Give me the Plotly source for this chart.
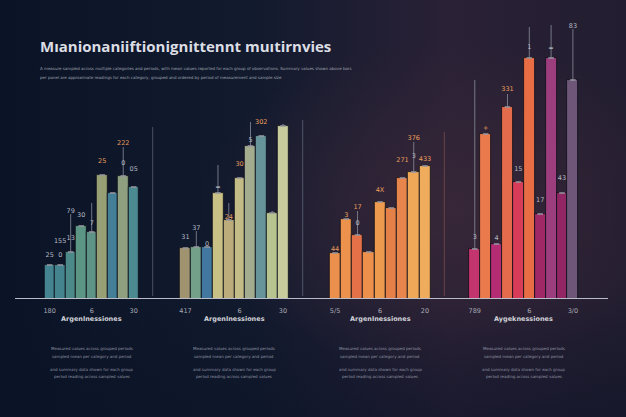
import base64
import plotly.graph_objects as go

# ---- data (heights in chart units above the baseline) ----
p1_cats = ["c1", "c2", "c3", "c4", "c5", "c6", "c7", "c8", "c9"]
p1_values = [34, 34, 47, 73, 67, 124, 106, 123, 112]
p1_labels = ["25", "155", "79", "30", "7", "25", "", "222", "05"]
p1_label_y = [44, 58, 88, 84, 76, 138, None, 156, 130]
p1_sub_labels = ["", "0", "13", "", "", "", "", "0", ""]
p1_sub_y = [None, 44, 61, None, None, None, None, 136, None]
p1_stem_top = [0, 0, 85, 0, 96, 0, 0, 152, 0]
p1_ticks = ["180", "6", "30"]

p2_cats = ["c1", "c2", "c3", "c4", "c5", "c6", "c7", "c8", "c9", "c10"]
p2_values = [51, 52, 52, 106, 79, 121, 153, 163, 86, 173]
p2_labels = ["31", "37", "0", "=", "24", "30", "5", "302", "-", "-"]
p2_label_y = [62, 71, 55, 112, 82, 135, 159, 177, 88, 175]
p2_sub_labels = ["", "", "", "", "", "", "", "", "", ""]
p2_sub_y = [None] * 10
p2_stem_top = [0, 68, 0, 134, 96, 0, 177, 0, 0, 0]
p2_ticks = ["417", "6", "30"]

p3_cats = ["c1", "c2", "c3", "c4", "c5", "c6", "c7", "c8", "c9"]
p3_values = [46, 80, 64, 47, 97, 91, 121, 127, 133]
p3_labels = ["44", "3", "17", "", "4X", "", "271", "376", "433"]
p3_label_y = [50, 84, 92, None, 109, None, 139, 161, 140]
p3_sub_labels = ["", "", "0", "", "", "", "", "3", ""]
p3_sub_y = [None, None, 76, None, None, None, None, 143, None]
p3_stem_top = [0, 0, 88, 0, 0, 0, 0, 157, 0]
p3_ticks = ["5/5", "6", "20"]

p4_cats = ["c1", "c2", "c3", "c4", "c5", "c6", "c7", "c8", "c9", "c10"]
p4_values = [50, 165, 55, 192, 117, 241, 85, 241, 106, 219]
p4_labels = ["3", "+", "4", "331", "15", "1", "17", "=", "43", "83"]
p4_label_y = [62, 171, 61, 210, 130, 252, 99, 251, 121, 273]
p4_sub_labels = ["", "", "", "", "", "", "", "", "", ""]
p4_sub_y = [None] * 10
p4_stem_top = [219, 0, 0, 205, 0, 272, 0, 274, 0, 270]
p4_ticks = ["789", "6", "3/0"]

title = "Mıanionaniiftionignittennt muıtirnvies"
subtitle = [
    "A measure sampled across multiple categories and periods, with mean values reported for each group of observations. "
    "Summary values shown above bars",
    "per panel are approximate readings for each category, grouped and ordered by period of measurement and sample size",
]
headings = ["Argenlnessiones", "Argenlnessiones", "Argenlnessiones", "Aygeknessiones"]
notes = [
    "Measured values across grouped periods",
    "sampled mean per category and period",
    "and summary data shown for each group",
    "period reading across sampled values",
]

# ---- styles ----
p1_colors = ["#438490", "#44848e", "#4c8a8a", "#5d9584", "#5e9486",
             "#97a075", "#437f96", "#8fa080", "#4a8a90"]
p2_colors = ["#a09470", "#72a088", "#4278a0", "#c8c084", "#bcac7c",
             "#c4bc86", "#a4ac90", "#66949a", "#b8c490", "#c8cc9c"]
p3_colors = ["#eb904c", "#ec924c", "#e47148", "#ec904c", "#ed9a4e",
             "#e48048", "#e7854c", "#eea858", "#efac5c"]
p4_colors = ["#c4356f", "#ea7a4c", "#b42c74", "#e46c4c", "#d83c58",
             "#e86c44", "#a02866", "#9c3e7e", "#922664", "#6e5678"]

ORANGE = "#eb9f5c"
GREY = "#b4bac4"
p1_label_colors = [GREY, GREY, GREY, GREY, GREY, ORANGE, GREY, ORANGE, GREY]
p2_label_colors = [GREY, GREY, GREY, GREY, ORANGE, ORANGE, GREY, ORANGE, GREY, GREY]
p3_label_colors = [ORANGE] * 9
p4_label_colors = [GREY, ORANGE, GREY, ORANGE, GREY, GREY, GREY, GREY, GREY, GREY]

domains = [[0.0666, 0.2264], [0.2823, 0.4660], [0.5219, 0.6922], [0.7444, 0.9292]]
tick_idx = [[0, 4, 8], [0, 5, 9], [0, 4, 8], [0, 5, 9]]

panels = [
    (p1_cats, p1_values, p1_labels, p1_label_y, p1_sub_labels, p1_sub_y, p1_stem_top, p1_ticks, p1_colors, p1_label_colors),
    (p2_cats, p2_values, p2_labels, p2_label_y, p2_sub_labels, p2_sub_y, p2_stem_top, p2_ticks, p2_colors, p2_label_colors),
    (p3_cats, p3_values, p3_labels, p3_label_y, p3_sub_labels, p3_sub_y, p3_stem_top, p3_ticks, p3_colors, p3_label_colors),
    (p4_cats, p4_values, p4_labels, p4_label_y, p4_sub_labels, p4_sub_y, p4_stem_top, p4_ticks, p4_colors, p4_label_colors),
]

W, H = 626, 417
BASE = 299  # pixel row of the baseline

fig = go.Figure()
layout_axes = {}

for i, (cats, vals, labs, laby, subs, suby, stems, ticks, cols, lcols) in enumerate(panels):
    xa = "x" if i == 0 else "x%d" % (i + 1)
    # bars
    fig.add_trace(go.Bar(
        x=cats, y=vals, xaxis=xa, yaxis="y",
        marker=dict(color=cols, line=dict(color="#0c0f18", width=0.8)),
        hoverinfo="skip",
    ))
    # stems from the bar tops
    stem_len = [max(s - v, 0) for s, v in zip(stems, vals)]
    fig.add_trace(go.Scatter(
        x=cats, y=vals, xaxis=xa, yaxis="y", mode="markers",
        marker=dict(symbol="line-ew", size=4, line=dict(color="#9a9aa4", width=1.5)),
        error_y=dict(type="data", symmetric=False, array=stem_len,
                     arrayminus=[0] * len(vals), color="#8a8e9a", thickness=0.8, width=0),
        hoverinfo="skip",
    ))
    # value labels
    fig.add_trace(go.Scatter(
        x=cats, y=laby, xaxis=xa, yaxis="y", mode="text", text=labs,
        textfont=dict(family="DejaVu Sans", size=6.5, color=lcols),
        hoverinfo="skip",
    ))
    fig.add_trace(go.Scatter(
        x=cats, y=suby, xaxis=xa, yaxis="y", mode="text", text=subs,
        textfont=dict(family="DejaVu Sans", size=6.5, color=GREY),
        hoverinfo="skip",
    ))
    key = "xaxis" if i == 0 else "xaxis%d" % (i + 1)
    layout_axes[key] = dict(
        domain=domains[i], anchor="y", type="category",
        tickvals=[cats[k] for k in tick_idx[i]], ticktext=ticks,
        tickfont=dict(family="DejaVu Sans", size=6.5, color="#a8abb4"),
        ticks="outside", ticklen=5, tickcolor="rgba(0,0,0,0)",
        showgrid=False, zeroline=False, showline=False,
    )

    # heading + small note lines under each panel
    fig.add_annotation(
        text="<b>" + headings[i] + "</b>", xref=xa + " domain", yref="paper", x=0.5, y=1 - 325 / H,
        showarrow=False, font=dict(family="DejaVu Sans", size=6.5, color="#d0d2d8"),
    )
    for j, row in enumerate([353.3, 360.9, 374.0, 380.8]):
        fig.add_annotation(
            text=notes[j], xref=xa + " domain", yref="paper", x=0.5, y=1 - row / H,
            showarrow=False, font=dict(family="DejaVu Sans", size=4, color="#8e93a0"),
        )

# title and subtitle
fig.add_annotation(
    text="<b>" + title + "</b>", xref="paper", yref="paper", x=38 / W, y=1 - 46 / H,
    xanchor="left", yanchor="middle", showarrow=False,
    font=dict(family="Open Sans", size=15, color="#dcdee4"),
)
for j, row in enumerate([68.3, 77.3]):
    fig.add_annotation(
        text=subtitle[j], xref="paper", yref="paper", x=38 / W, y=1 - row / H,
        xanchor="left", yanchor="middle", showarrow=False,
        font=dict(family="DejaVu Sans", size=4, color="#9ea3ae"),
    )

# baseline and panel dividers
shapes = [dict(type="line", xref="paper", yref="y", x0=15 / W, x1=608 / W, y0=0, y1=0,
               line=dict(color="#b9bcc6", width=2))]
for px, top, col in [(152.7, 172, "#4c5264"), (302.7, 179, "#50566a"), (444.3, 167, "#6b4444")]:
    shapes.append(dict(type="line", xref="paper", yref="y", x0=px / W, x1=px / W, y0=3, y1=top,
                       line=dict(color=col, width=1)))

# soft dark background gradient: navy on the left, plum towards the right
svg = (
    "<svg xmlns='http://www.w3.org/2000/svg' width='626' height='417'>"
    "<defs>"
    "<linearGradient id='g' x1='0' y1='0' x2='1' y2='0'>"
    "<stop offset='0' stop-color='#0b1326'/>"
    "<stop offset='0.4' stop-color='#121a2e'/>"
    "<stop offset='0.72' stop-color='#2a2136'/>"
    "<stop offset='1' stop-color='#221d30'/>"
    "</linearGradient>"
    "<radialGradient id='r' cx='0.72' cy='0.5' r='0.4'>"
    "<stop offset='0' stop-color='#3a2838' stop-opacity='0.8'/>"
    "<stop offset='1' stop-color='#3a2838' stop-opacity='0'/>"
    "</radialGradient>"
    "<linearGradient id='v' x1='0' y1='0' x2='0' y2='1'>"
    "<stop offset='0.7' stop-color='#0a1226' stop-opacity='0'/>"
    "<stop offset='1' stop-color='#0a1226' stop-opacity='0.5'/>"
    "</linearGradient>"
    "</defs>"
    "<rect width='626' height='417' fill='url(#g)'/>"
    "<rect width='626' height='417' fill='url(#r)'/>"
    "<rect width='626' height='417' fill='url(#v)'/>"
    "</svg>"
)
bg = "data:image/svg+xml;base64," + base64.b64encode(svg.encode()).decode()

fig.update_layout(
    width=W, height=H,
    margin=dict(l=0, r=0, t=0, b=0),
    paper_bgcolor="#141a2a", plot_bgcolor="rgba(0,0,0,0)",
    showlegend=False, bargap=0,
    yaxis=dict(domain=[1 - BASE / H, 1], range=[0, BASE], visible=False, fixedrange=True),
    shapes=shapes,
    images=[dict(source=bg, xref="paper", yref="paper", x=0, y=1, sizex=1, sizey=1,
                 sizing="stretch", layer="below")],
    **layout_axes,
)

# page body has a default margin; drop it so the figure fills the window
fig.write_html("out.html", config={"displayModeBar": False},
               post_script="document.body.style.margin='0';")
